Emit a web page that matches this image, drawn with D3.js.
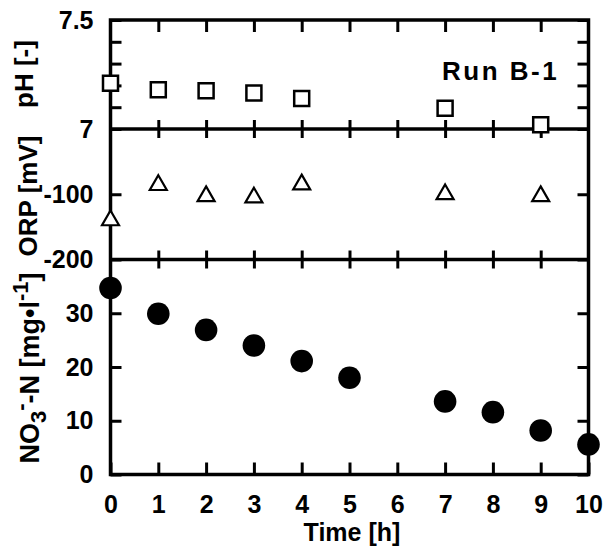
<!DOCTYPE html>
<html lang="en">
<head>
<meta charset="utf-8">
<style type="text/css">
    body { margin: 0; background: #fff; }
    text { font-family: "Liberation Sans", Arial, sans-serif; font-weight: bold; fill: #000; }
    .axis path { display: none; }
    .axis line { stroke: #000; stroke-width: 3; }
    .frame { fill: none; stroke: #000; stroke-width: 3.5; }
</style>
</head>
<body>
<svg width="611" height="549"></svg>

<script src="https://d3js.org/d3.v7.min.js"></script>
<script type="text/javascript">
    // data
    var phTime = [0, 1, 2, 3, 4, 7, 9];
    var phVal = [7.21, 7.18, 7.175, 7.165, 7.14, 7.095, 7.02];
    var orpTime = [0, 1, 2, 3, 4, 7, 9];
    var orpVal = [-140, -86, -103, -105, -85, -100, -103];
    var no3Time = [0, 1, 2, 3, 4, 5, 7, 8, 9, 10];
    var no3Val = [34.7, 29.9, 26.9, 24.0, 21.1, 18.0, 13.6, 11.6, 8.2, 5.6];
    var timeTicks = [0, 1, 2, 3, 4, 5, 6, 7, 8, 9, 10];
    var phTicks = [7, 7.1, 7.2, 7.3, 7.4, 7.5];
    var orpTicks = [-100, -200];
    var no3Ticks = [0, 10, 20, 30];

    var svg = d3.select("svg");

    var x = d3.scaleLinear().domain([0, 10]).range([110.5, 588.5]);
    var yPh = d3.scaleLinear().domain([7, 7.5]).range([129, 20]);
    var yOrp = d3.scaleLinear().domain([-200, 0]).range([259.5, 129]);
    var yNo3 = d3.scaleLinear().domain([0, 40]).range([474.5, 259.5]);

    var x0 = x(0), x1 = x(10);
    var inner = d3.range(1, 10);
    var fmt = function (d) { return String(d).replace("\u2212", "-"); };

    // x ticks: top border, divider lines (both ways), bottom
    svg.append("g").attr("class", "axis").attr("transform", "translate(0," + yPh(7.5) + ")")
        .call(d3.axisBottom(x).tickValues(inner).tickSize(12).tickFormat(""));
    [yPh(7), yOrp(-200)].forEach(function (yy) {
        svg.append("g").attr("class", "axis").attr("transform", "translate(0," + yy + ")")
            .call(d3.axisBottom(x).tickValues(inner).tickSize(9).tickFormat(""));
        svg.append("g").attr("class", "axis").attr("transform", "translate(0," + yy + ")")
            .call(d3.axisTop(x).tickValues(inner).tickSize(9).tickFormat(""));
    });
    var xb = svg.append("g").attr("class", "axis").attr("transform", "translate(0," + yNo3(0) + ")")
        .call(d3.axisBottom(x).tickValues(timeTicks).tickSize(-12).tickPadding(21).tickFormat(fmt));
    xb.selectAll("text").style("font-size", "25px");

    // left axes with labels, right axes without
    function leftAxis(scale, ticks, labelled) {
        var g = svg.append("g").attr("class", "axis").attr("transform", "translate(" + x0 + ",0)")
            .call(d3.axisLeft(scale).tickValues(ticks).tickSize(-11).tickPadding(17)
                .tickFormat(function (d) { return labelled.indexOf(d) >= 0 ? fmt(d) : ""; }));
        g.selectAll("text").style("font-size", "25px");
        svg.append("g").attr("class", "axis").attr("transform", "translate(" + x1 + ",0)")
            .call(d3.axisRight(scale).tickValues(ticks).tickSize(-11).tickFormat(""));
    }
    leftAxis(yPh, phTicks, [7, 7.5]);
    leftAxis(yOrp, orpTicks, [-100, -200]);
    leftAxis(yNo3, no3Ticks, [0, 10, 20, 30]);
    svg.selectAll(".axis").attr("font-family", null).attr("font-size", null);

    // frame and dividers
    svg.append("rect").attr("class", "frame")
        .attr("x", x0).attr("y", yPh(7.5)).attr("width", x1 - x0).attr("height", yNo3(0) - yPh(7.5));
    [yPh(7), yOrp(-200)].forEach(function (yy) {
        svg.append("line").attr("class", "frame").attr("x1", x0).attr("x2", x1).attr("y1", yy).attr("y2", yy);
    });

    // pH squares
    svg.selectAll(".ph").data(phTime).enter().append("path")
        .attr("class", "ph")
        .attr("d", d3.symbol(d3.symbolSquare, 225))
        .attr("transform", function (d, i) { return "translate(" + x(d) + "," + yPh(phVal[i]) + ")"; })
        .attr("fill", "#fff").attr("stroke", "#000").attr("stroke-width", 2.5);

    // ORP triangles
    svg.selectAll(".orp").data(orpTime).enter().append("path")
        .attr("class", "orp")
        .attr("d", d3.symbol(d3.symbolTriangle, 125))
        .attr("transform", function (d, i) { return "translate(" + x(d) + "," + yOrp(orpVal[i]) + ")"; })
        .attr("fill", "#fff").attr("stroke", "#000").attr("stroke-width", 2.2);

    // nitrate circles
    svg.selectAll(".no3").data(no3Time).enter().append("circle")
        .attr("class", "no3")
        .attr("cx", function (d) { return x(d); })
        .attr("cy", function (d, i) { return yNo3(no3Val[i]); })
        .attr("r", 11.3)
        .attr("fill", "#000");

    // texts
    svg.append("text").attr("x", 442).attr("y", 80).style("font-size", "26px")
        .style("letter-spacing", "2.5px").text("Run B-1");

    svg.append("text").attr("x", 352).attr("y", 541).attr("text-anchor", "middle")
        .style("font-size", "25px").text("Time [h]");

    svg.append("text").attr("transform", "translate(33,74) rotate(-90)")
        .attr("text-anchor", "middle").style("font-size", "26px").text("pH [-]");

    svg.append("text").attr("transform", "translate(37,196) rotate(-90)")
        .attr("text-anchor", "middle").style("font-size", "26px").text("ORP [mV]");

    var n = svg.append("text").attr("transform", "translate(39,368) rotate(-90)")
        .attr("text-anchor", "middle").style("font-size", "27px");
    n.append("tspan").text("NO");
    n.append("tspan").attr("dy", 7).style("font-size", "22px").text("3");
    n.append("tspan").attr("dy", -18).style("font-size", "22px").text("-");
    n.append("tspan").attr("dy", 11).text("-N [mg\u2022l");
    n.append("tspan").attr("dy", -11).style("font-size", "22px").text("-1");
    n.append("tspan").attr("dy", 11).text("]");
</script>
</body>
</html>
